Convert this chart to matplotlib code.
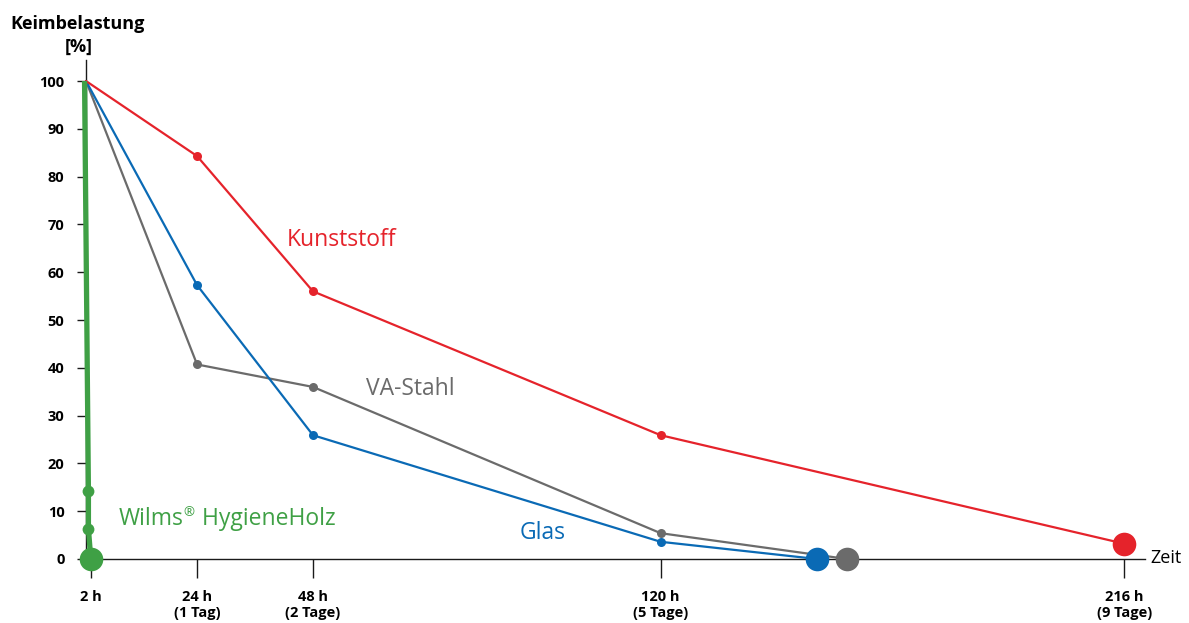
import matplotlib
matplotlib.use('Agg')
import matplotlib.pyplot as plt

# data (hours, percent)
kunststoff_h = [1, 24, 48, 120, 216]
kunststoff_v = [100, 84.3, 56.0, 25.9, 3.2]

glas_h = [1, 24, 48, 120, 152.4]
glas_v = [100, 57.3, 25.9, 3.6, 0]

stahl_h = [1, 24, 48, 120, 158.6]
stahl_v = [100, 40.7, 36.0, 5.4, 0]

holz_h = [0.7, 1.5, 1.5, 2.0]
holz_v = [100, 14.2, 6.3, 0]

tick_pos = [2, 24, 48, 120, 216]
tick_lab = ['2 h', '24 h\n(1 Tag)', '48 h\n(2 Tage)', '120 h\n(5 Tage)', '216 h\n(9 Tage)']
ytick_pos = [0, 10, 20, 30, 40, 50, 60, 70, 80, 90, 100]

RED = '#e5232b'
BLUE = '#0a6ab5'
GRAY = '#6b6b6b'
GREEN = '#3fa045'

plt.rcParams['font.family'] = ['Open Sans', 'DejaVu Sans']

fig = plt.figure(figsize=(11.89, 6.23), dpi=100)
W, H = 1189, 623
ax = fig.add_axes([86 / W, (H - 559) / H, (1145 - 86) / W, (559 - 60) / H])

def series(h, v, color, lw, ms_small, ms_big, cap='round'):
    ax.plot(h, v, color=color, lw=lw, solid_capstyle=cap, clip_on=False, zorder=3)
    ax.plot(h[1:-1], v[1:-1], 'o', color=color, ms=ms_small, mew=0, clip_on=False, zorder=4)
    ax.plot(h[-1:], v[-1:], 'o', color=color, ms=ms_big, mew=0, clip_on=False, zorder=5)

series(stahl_h, stahl_v, GRAY, 1.6, 6.5, 17)
series(glas_h, glas_v, BLUE, 1.6, 6.5, 17)
series(kunststoff_h, kunststoff_v, RED, 1.6, 6.5, 17)
series(holz_h, holz_v, GREEN, 3.8, 8.5, 17, cap='butt')

ax.set_xlim(1.0, 220.3)
ax.set_ylim(0, 104.4)

for s in ['top', 'right']:
    ax.spines[s].set_visible(False)
for s in ['left', 'bottom']:
    ax.spines[s].set_linewidth(1.0)
    ax.spines[s].set_color('#1a1a1a')

ax.set_xticks(tick_pos)
ax.set_xticklabels(tick_lab, fontweight='bold', fontsize=10.5, linespacing=1.2, va='top')
ax.set_yticks(ytick_pos)
ax.set_yticklabels([str(v) for v in ytick_pos], fontweight='bold', fontsize=10.5)
ax.tick_params(axis='x', direction='out', length=14, width=1.0, pad=8, color='#1a1a1a')
ax.tick_params(axis='y', direction='out', length=6.5, width=1.0, pad=9, color='#1a1a1a')

fig.text(10 / W, 1 - 24 / H, 'Keimbelastung', fontsize=13, fontweight='bold', va='center', ha='left')
fig.text(79 / W, 1 - 47 / H, '[%]', fontsize=13, fontweight='bold', va='center', ha='center')
fig.text(1150 / W, 1 - 558 / H, 'Zeit', fontsize=13, va='center', ha='left')

fig.text(287 / W, 1 - 240 / H, 'Kunststoff', fontsize=16.5, color=RED, va='center', ha='left')
fig.text(366 / W, 1 - 389 / H, 'VA-Stahl', fontsize=16.5, color=GRAY, va='center', ha='left')
fig.text(520 / W, 1 - 533 / H, 'Glas', fontsize=16.5, color=BLUE, va='center', ha='left')

# "Wilms® HygieneHolz" with a small raised registered sign
r = fig.canvas.get_renderer()
x0 = 119
t1 = fig.text(x0 / W, 1 - 519 / H, 'Wilms', fontsize=16.5, color=GREEN, va='center', ha='left')
w1 = t1.get_window_extent(r).width
t2 = fig.text((x0 + w1 - 1) / W, 1 - 513 / H, '®', fontsize=9.5, color=GREEN, va='center', ha='left')
w2 = t2.get_window_extent(r).width
fig.text((x0 + w1 + w2 + 1) / W, 1 - 519 / H, ' HygieneHolz', fontsize=16.5, color=GREEN,
         va='center', ha='left')

fig.savefig('out.png', dpi=100)
